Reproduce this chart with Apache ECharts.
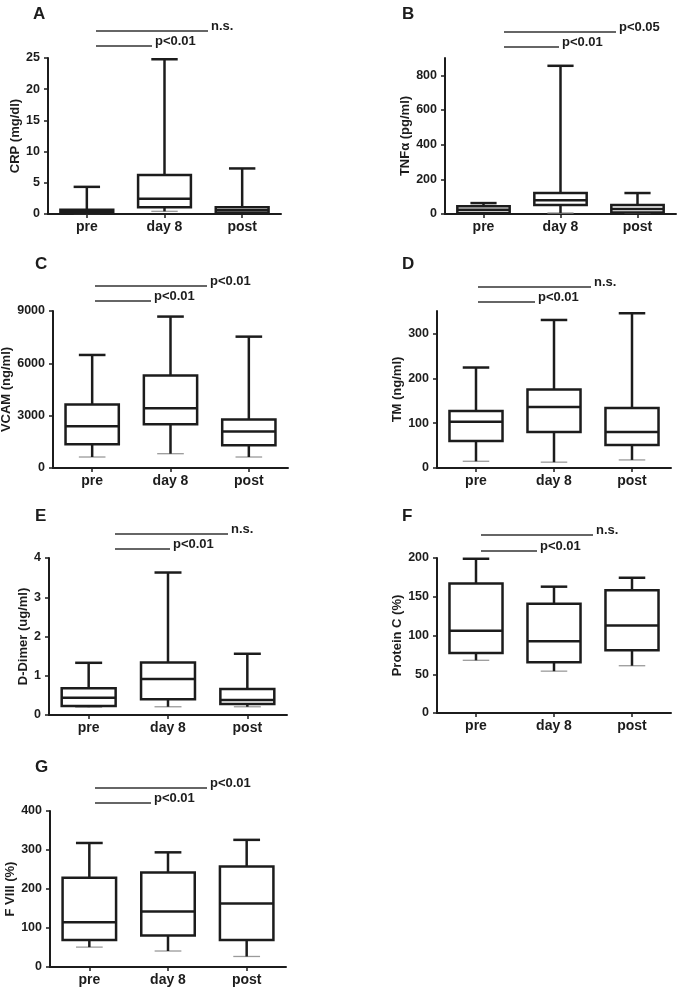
<!DOCTYPE html>
<html>
<head>
<meta charset="utf-8">
<script src="https://cdn.jsdelivr.net/npm/echarts@6/dist/echarts.min.js"></script>
<style>
html,body{margin:0;padding:0;background:#fff;}
#chart{width:686px;height:993px;}
</style>
</head>
<body>
<div id="chart"></div>
<script>
// ---- data ----
const categories = ['pre', 'day 8', 'post'];
// each row: [min, Q1, median, Q3, max]
const crpStats      = [[0.05, 0.1, 0.35, 0.7, 4.35], [0.43, 1.07, 2.45, 6.25, 24.8], [0.1, 0.2, 0.6, 1.07, 7.3]];
const tnfStats      = [[5, 6, 25, 44, 63], [6, 52, 80, 121, 855], [5, 9, 29, 52, 121]];
const vcamStats     = [[630, 1360, 2400, 3640, 6480], [820, 2510, 3430, 5300, 8680], [630, 1300, 2090, 2780, 7530]];
const tmStats       = [[15, 60, 103, 127, 224], [13, 80, 136, 175, 330], [18, 51, 80, 134, 345]];
const ddimerStats   = [[0.2, 0.23, 0.44, 0.68, 1.33], [0.21, 0.40, 0.92, 1.34, 3.63], [0.21, 0.28, 0.38, 0.66, 1.56]];
const proteinCStats = [[68, 77.5, 106, 167, 199], [54, 65.5, 92.6, 141, 163], [61, 81, 113, 158.5, 174.5]];
const fviiiStats    = [[51, 69, 115, 229, 318], [41, 81, 142, 242, 294], [27, 69, 163, 258, 326]];

// tick labels
const crpTicks      = [0, 5, 10, 15, 20, 25];
const tnfTicks      = [0, 200, 400, 600, 800];
const vcamTicks     = [0, 3000, 6000, 9000];
const tmTicks       = [0, 100, 200, 300];
const ddimerTicks   = [0, 1, 2, 3, 4];
const proteinCTicks = [0, 50, 100, 150, 200];
const fviiiTicks    = [0, 100, 200, 300, 400];

// axis titles, panel letters, significance labels [long bar, short bar]
const panelLetters = ['A', 'B', 'C', 'D', 'E', 'F', 'G'];
const yTitles = ['CRP (mg/dl)', 'TNFα (pg/ml)', 'VCAM (ng/ml)', 'TM (ng/ml)', 'D-Dimer (ug/ml)', 'Protein C (%)', 'F VIII (%)'];
const sigLabels = [
  ['n.s.', 'p<0.01'],
  ['p<0.05', 'p<0.01'],
  ['p<0.01', 'p<0.01'],
  ['n.s.', 'p<0.01'],
  ['n.s.', 'p<0.01'],
  ['n.s.', 'p<0.01'],
  ['p<0.01', 'p<0.01']
];

// ---- layout (pixel positions, styles) ----
const FONT = '"Liberation Sans", Arial, Helvetica, sans-serif';
const INK = '#1c1c1c';
const panels = [
  {stats: crpStats,      ticks: crpTicks,      max: 25,   grid: [48, 58, 233, 156],  gap: 22, letter: [33, 14.5],  bars: [96, 208, 31, 152, 46]},
  {stats: tnfStats,      ticks: tnfTicks,      max: 900,  grid: [445, 58, 231, 156], gap: 28, letter: [402, 14.5], bars: [504, 616, 32, 559, 47]},
  {stats: vcamStats,     ticks: vcamTicks,     max: 9000, grid: [53, 311, 235, 157], gap: 31, letter: [35, 265],   bars: [95, 207, 286, 151, 301]},
  {stats: tmStats,       ticks: tmTicks,       max: 350,  grid: [437, 311, 234, 157],gap: 27, letter: [402, 265],  bars: [478, 591, 287, 535, 302]},
  {stats: ddimerStats,   ticks: ddimerTicks,   max: 4,    grid: [49, 558, 238, 157], gap: 12, letter: [35, 517],   bars: [115, 228, 534, 170, 549]},
  {stats: proteinCStats, ticks: proteinCTicks, max: 200,  grid: [437, 558, 234, 155],gap: 27, letter: [402, 517],  bars: [481, 593, 535, 537, 551]},
  {stats: fviiiStats,    ticks: fviiiTicks,    max: 400,  grid: [50, 811, 236, 156], gap: 26, letter: [35, 768],   bars: [95, 207, 788, 151, 803]}
];

function renderBox(params, api) {
  const cat = api.value(0);
  const pMin = api.coord([cat, api.value(1)]);
  const pQ1  = api.coord([cat, api.value(2)]);
  const pMed = api.coord([cat, api.value(3)]);
  const pQ3  = api.coord([cat, api.value(4)]);
  const pMax = api.coord([cat, api.value(5)]);
  const band = api.size([1, 0])[0];
  const bw = band * 0.68, cw = band * 0.34;
  const x = pMed[0];
  const dark = {stroke: INK, lineWidth: 2.5, fill: null};
  const grey = {stroke: '#9a9a9a', lineWidth: 1.3, fill: null};
  return {
    type: 'group',
    children: [
      {type: 'line', shape: {x1: x - cw / 2, y1: pMin[1], x2: x + cw / 2, y2: pMin[1]}, style: grey},
      {type: 'line', shape: {x1: x, y1: pQ1[1], x2: x, y2: pMin[1]}, style: dark},
      {type: 'line', shape: {x1: x, y1: pQ3[1], x2: x, y2: pMax[1]}, style: dark},
      {type: 'line', shape: {x1: x - cw / 2, y1: pMax[1], x2: x + cw / 2, y2: pMax[1]}, style: dark},
      {type: 'rect', shape: {x: x - bw / 2, y: pQ3[1], width: bw, height: pQ1[1] - pQ3[1]}, style: {stroke: INK, lineWidth: 2.5, fill: '#fff'}},
      {type: 'line', shape: {x1: x - bw / 2, y1: pMed[1], x2: x + bw / 2, y2: pMed[1]}, style: dark}
    ]
  };
}

const grids = [], xAxes = [], yAxes = [], series = [], graphics = [];
panels.forEach((p, i) => {
  grids.push({left: p.grid[0], top: p.grid[1], width: p.grid[2], height: p.grid[3], containLabel: false, outerBoundsMode: 'none'});
  xAxes.push({
    type: 'category', gridIndex: i, data: categories, boundaryGap: true,
    axisLine: {show: true, lineStyle: {color: INK, width: 2}},
    axisTick: {show: true, alignWithLabel: true, length: 4, lineStyle: {color: INK, width: 1.5}},
    axisLabel: {color: INK, fontFamily: FONT, fontWeight: 'bold', fontSize: 14, margin: 6},
    splitLine: {show: false}
  });
  yAxes.push({
    type: 'value', gridIndex: i, min: 0, max: p.max,
    name: yTitles[i], nameLocation: 'middle', nameGap: p.gap,
    nameTextStyle: {color: INK, fontFamily: FONT, fontWeight: 'bold', fontSize: 13},
    axisLine: {show: true, lineStyle: {color: INK, width: 2}},
    axisTick: {show: true, length: 4, customValues: p.ticks, lineStyle: {color: INK, width: 1.5}},
    axisLabel: {color: INK, fontFamily: FONT, fontWeight: 'bold', fontSize: 12.5, margin: 8,
      customValues: p.ticks, formatter: v => String(v)},
    splitLine: {show: false}
  });
  series.push({
    type: 'custom', xAxisIndex: i, yAxisIndex: i,
    renderItem: renderBox,
    encode: {x: 0, y: [1, 2, 3, 4, 5]},
    data: categories.map((c, k) => [k].concat(p.stats[k])),
    clip: false
  });
  graphics.push({type: 'text', left: p.letter[0], top: p.letter[1] - 9,
    style: {text: panelLetters[i], fill: INK, font: 'bold 17px ' + FONT}});
  const b = p.bars;
  graphics.push({type: 'line', shape: {x1: b[0], y1: b[2], x2: b[1], y2: b[2]}, style: {stroke: '#333', lineWidth: 1.3}});
  graphics.push({type: 'line', shape: {x1: b[0], y1: b[4], x2: b[3], y2: b[4]}, style: {stroke: '#333', lineWidth: 1.3}});
  graphics.push({type: 'text', x: b[1] + 3, y: b[2] - 5,
    style: {text: sigLabels[i][0], fill: INK, font: 'bold 13px ' + FONT, verticalAlign: 'middle', align: 'left'}});
  graphics.push({type: 'text', x: b[3] + 3, y: b[4] - 5,
    style: {text: sigLabels[i][1], fill: INK, font: 'bold 13px ' + FONT, verticalAlign: 'middle', align: 'left'}});
});

const chart = echarts.init(document.getElementById('chart'), null, {renderer: 'canvas'});
chart.setOption({
  backgroundColor: '#ffffff',
  animation: false,
  grid: grids,
  xAxis: xAxes,
  yAxis: yAxes,
  series: series,
  graphic: graphics
});
</script>
</body>
</html>
